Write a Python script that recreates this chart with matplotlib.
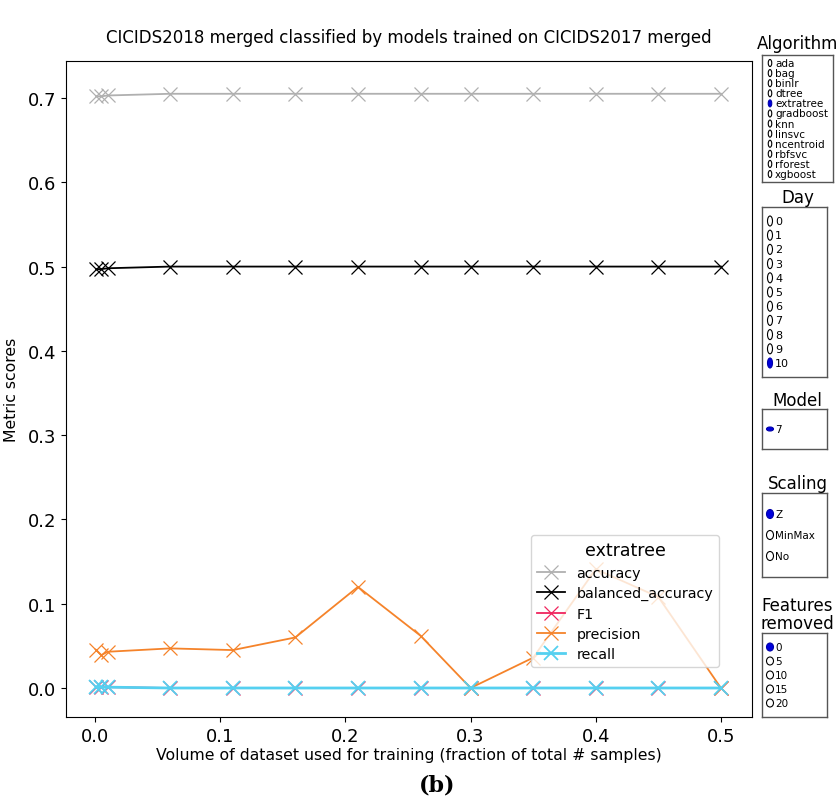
import matplotlib
matplotlib.use("Agg")
import matplotlib.pyplot as plt
from matplotlib.patches import Ellipse

# ---- data ----
x_frac = [0.001, 0.005, 0.01, 0.06, 0.11, 0.16, 0.21, 0.26, 0.30, 0.35, 0.40, 0.45, 0.50]
accuracy = [0.702, 0.702, 0.703, 0.705, 0.705, 0.705, 0.705, 0.705, 0.705, 0.705, 0.705, 0.705, 0.705]
balanced_accuracy = [0.497, 0.497, 0.498, 0.500, 0.500, 0.500, 0.500, 0.500, 0.500, 0.500, 0.500, 0.500, 0.500]
f1 = [0.001, 0.001, 0.001, 0.0, 0.0, 0.0, 0.0, 0.0, 0.0, 0.0, 0.0, 0.0, 0.0]
precision = [0.045, 0.039, 0.043, 0.047, 0.045, 0.060, 0.120, 0.062, 0.0, 0.036, 0.141, 0.108, 0.0]
recall = [0.001, 0.001, 0.001, 0.0, 0.0, 0.0, 0.0, 0.0, 0.0, 0.0, 0.0, 0.0, 0.0]

series_names = ["accuracy", "balanced_accuracy", "F1", "precision", "recall"]
series_vals = [accuracy, balanced_accuracy, f1, precision, recall]
series_colors = ["#b0b0b0", "#000000", "#f0245e", "#f5832a", "#55d0f0"]

algorithms = ["ada", "bag", "binlr", "dtree", "extratree", "gradboost", "knn",
              "linsvc", "ncentroid", "rbfsvc", "rforest", "xgboost"]
days = ["0", "1", "2", "3", "4", "5", "6", "7", "8", "9", "10"]
models = ["7"]
scalings = ["Z", "MinMax", "No"]
features_removed = ["0", "5", "10", "15", "20"]

W, H = 839, 803
fig = plt.figure(figsize=(W / 100, H / 100), dpi=100)

def rect(l, t, r, b):
    return [l / W, 1 - b / H, (r - l) / W, (b - t) / H]

ax = fig.add_axes(rect(66, 62, 752, 718))
for name, vals, c in zip(series_names, series_vals, series_colors):
    is_recall = (name == "recall")
    ax.plot(x_frac, vals, color=c, marker="x", markersize=10,
            linewidth=2.0 if is_recall else 1.3,
            markeredgewidth=1.3 if is_recall else 0.9, label=name)
ax.set_xlim(-0.0232, 0.5248)
ax.set_ylim(-0.0344, 0.7439)
ax.set_xticks([0.0, 0.1, 0.2, 0.3, 0.4, 0.5])
ax.set_xticklabels(["0.0", "0.1", "0.2", "0.3", "0.4", "0.5"])
ax.set_yticks([0.0, 0.1, 0.2, 0.3, 0.4, 0.5, 0.6, 0.7])
ax.tick_params(labelsize=13)
ax.set_xlabel("Volume of dataset used for training (fraction of total # samples)",
              fontsize=11.3, labelpad=2)
ax.set_ylabel("Metric scores", fontsize=11.3, labelpad=6)
ax.set_title("CICIDS2018 merged classified by models trained on CICIDS2017 merged",
             fontsize=12, pad=14)
leg = ax.legend(title="extratree", fontsize=10.3, title_fontsize=12.5,
                loc="lower right", bbox_to_anchor=(0.952, 0.076), borderaxespad=0.0,
                labelspacing=0.45, handlelength=2.0)

fig.text(437 / W, 1 - 786 / H, "(b)", fontsize=16, fontweight="bold",
         family="DejaVu Serif", ha="center", va="center")

def panel(title_lines, items, selected, l, t, r, b, title_y, fs=7.5,
          ew=4, eh=7, first_pad=None, title_x=None):
    pax = fig.add_axes(rect(l, t, r, b))
    pax.set_xlim(0, r - l)
    pax.set_ylim(b - t, 0)
    pax.set_xticks([])
    pax.set_yticks([])
    for s in pax.spines.values():
        s.set_color("#555555")
        s.set_linewidth(1.0)
    n = len(items)
    hgt = b - t
    if first_pad is None:
        step = hgt / (n + 1)
        ys = [step * (i + 1) for i in range(n)]
    else:
        step = (hgt - 2 * first_pad) / max(n - 1, 1)
        ys = [first_pad + step * i for i in range(n)]
    for i, (it, y) in enumerate(zip(items, ys)):
        sel = (i == selected)
        e = Ellipse((8, y), ew, eh, facecolor="#0000dd" if sel else "white",
                    edgecolor="#0000aa" if sel else "black", linewidth=0.8)
        pax.add_patch(e)
        pax.text(13, y, it, fontsize=fs, va="center", ha="left")
    cx = title_x if title_x is not None else (l + r) / 2 + 3
    for k, line in enumerate(title_lines):
        fig.text(cx / W, 1 - (title_y + k * 18) / H, line,
                 fontsize=12, ha="center", va="center")
    return pax

panel(["Algorithm"], algorithms, 4, 762, 56, 833, 183, 44, fs=7.5, ew=3.5, eh=7,
      first_pad=8, title_x=798)
panel(["Day"], days, 10, 762, 208, 827, 378, 198, fs=8, ew=5, eh=10,
      first_pad=14)
panel(["Model"], models, 0, 762, 410, 827, 450, 401, fs=7.5, ew=7, eh=4)
panel(["Scaling"], scalings, 0, 762, 494, 827, 578, 484, fs=7.5, ew=7, eh=9)
panel(["Features", "removed"], features_removed, 0, 762, 634, 827, 718, 606,
      fs=7.5, ew=7, eh=8)

fig.savefig("out.png", dpi=100)
